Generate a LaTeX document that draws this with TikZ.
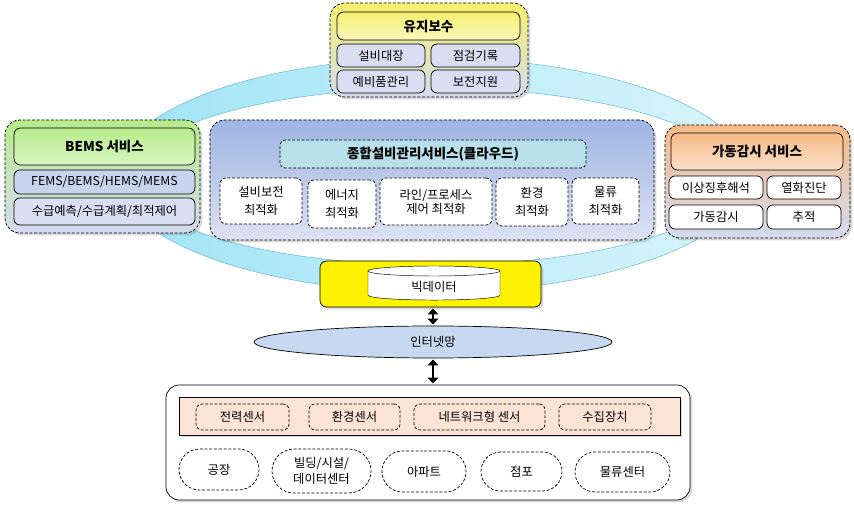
\documentclass[tikz,border=0pt]{standalone}
\usepackage{fontspec}
\setmainfont{Noto Sans CJK KR}
\usepackage{tikz}
\usetikzlibrary{arrows.meta, calc}
\usetikzlibrary{shapes.geometric, shapes.misc}
\usetikzlibrary{shadows}
\definecolor{ringleft}{RGB}{160, 228, 246}
\definecolor{ringright}{RGB}{216, 244, 251}
\definecolor{ringline}{RGB}{96, 180, 200}
\definecolor{lavender}{RGB}{212, 219, 240}
\definecolor{myyellow}{RGB}{246, 240, 110}
\definecolor{mygreen}{RGB}{184, 236, 140}
\definecolor{myorange}{RGB}{246, 186, 134}
\definecolor{mycloud}{RGB}{158, 180, 226}
\definecolor{myteal}{RGB}{184, 224, 232}
\definecolor{itemblue}{RGB}{200, 212, 238}
\definecolor{itemlav}{RGB}{218, 222, 242}
\definecolor{netblue}{RGB}{198, 217, 241}
\definecolor{peach}{RGB}{251, 228, 213}
\tikzstyle{dashline} = [dash pattern=on 2.5pt off 1.5pt, line width=0.6pt]
\tikzstyle{panel} = [draw, dashline, rounded corners=0.45cm, inner sep=0,
    drop shadow={shadow xshift=2pt, shadow yshift=-2pt, opacity=0.3}]
\tikzstyle{header} = [draw, line width=0.6pt, rounded corners=0.2cm, inner sep=0,
    font=\bfseries\fontsize{11.5}{13}\selectfont, align=center]
\tikzstyle{subbox} = [draw, line width=0.6pt, rounded corners=0.18cm, inner sep=0,
    font=\fontsize{10.5}{12}\selectfont, align=center]
\tikzstyle{dashbox} = [draw, dashline, rounded corners=0.18cm, inner sep=0,
    fill=white, font=\fontsize{10.5}{15}\selectfont, align=center]
\tikzstyle{place} = [draw, dashline, rounded rectangle, inner sep=0,
    fill=white, font=\fontsize{10.5}{14}\selectfont, align=center]
\tikzstyle{updown} = [{Triangle[width=9pt,length=5pt]}-{Triangle[width=9pt,length=5pt]},
    line width=2.5pt, shorten <=1pt, shorten >=1pt]

\begin{document}
\begin{tikzpicture}[x=0.03cm, y=-0.03cm]
\useasboundingbox (0,0) rectangle (854,509);

% ring behind everything
\draw[ringline, even odd rule, left color=ringleft, right color=ringright]
    (433,175) ellipse [x radius=316, y radius=117]
    (433,176.5) ellipse [x radius=301, y radius=88.5];

%%% MAINTENANCE
\node[panel, top color=myyellow, bottom color=lavender,
    minimum width=5.94cm, minimum height=2.82cm] (maint) at (429,50) {};
\node[header, top color=myyellow, bottom color=myyellow!45,
    minimum width=5.49cm, minimum height=0.84cm] (mainthead) at (428.5,26) {유지보수};
\node[subbox, fill=itemlav, minimum width=2.64cm, minimum height=0.69cm] (m1) at (381,55.5) {설비대장};
\node[subbox, fill=itemlav, minimum width=2.67cm, minimum height=0.69cm] (m2) at (475.5,55.5) {점검기록};
\node[subbox, fill=itemlav, minimum width=2.64cm, minimum height=0.69cm] (m3) at (381,81.5) {예비품관리};
\node[subbox, fill=itemlav, minimum width=2.67cm, minimum height=0.69cm] (m4) at (475.5,81.5) {보전지원};

%%% BEMS
\node[panel, top color=mygreen, bottom color=lavender,
    minimum width=5.85cm, minimum height=3.39cm] (bems) at (102.5,176.5) {};
\node[header, top color=mygreen, bottom color=mygreen!55,
    minimum width=5.43cm, minimum height=1.11cm] (bemshead) at (104.5,146.5) {BEMS 서비스};
\node[subbox, fill=itemblue, minimum width=5.43cm, minimum height=0.72cm] (b1) at (104.5,182) {FEMS/BEMS/HEMS/MEMS};
\node[subbox, fill=itemlav, minimum width=5.43cm, minimum height=0.81cm] (b2) at (104.5,211.5) {수급예측/수급계획/최적제어};

%%% MONITORING
\node[panel, top color=myorange, bottom color=lavender,
    minimum width=5.55cm, minimum height=3.39cm] (watch) at (757.5,181.5) {};
\node[header, top color=myorange, bottom color=myorange!45,
    minimum width=5.16cm, minimum height=1.11cm] (watchhead) at (757,151.5) {가동감시 서비스};
\node[subbox, fill=white, minimum width=2.82cm, minimum height=0.69cm] (w1) at (716,187.5) {이상징후해석};
\node[subbox, fill=white, minimum width=2.22cm, minimum height=0.69cm] (w2) at (804,187.5) {열화진단};
\node[subbox, fill=white, minimum width=2.82cm, minimum height=0.72cm] (w3) at (716,217) {가동감시};
\node[subbox, fill=white, minimum width=2.22cm, minimum height=0.72cm] (w4) at (804,217) {추적};

%%% CLOUD
\node[panel, top color=mycloud, bottom color=lavender!80,
    minimum width=13.32cm, minimum height=3.6cm] (cloud) at (432,180) {};
\node[header, dashline, fill=myteal, rounded corners=0.15cm,
    minimum width=9.18cm, minimum height=0.84cm] (cloudhead) at (433,154) {종합설비관리서비스(클라우드)};
\node[dashbox, minimum width=2.46cm, minimum height=1.38cm] (c1) at (261,201) {설비보전\\최적화};
\node[dashbox, minimum width=2.04cm, minimum height=1.44cm] (c2) at (342,204) {에너지\\최적화};
\node[dashbox, minimum width=3.36cm, minimum height=1.41cm, font=\fontsize{10.5}{12}\selectfont] (c3) at (436,201.5) {라인/프로세스\\제어 최적화};
\node[dashbox, minimum width=2.16cm, minimum height=1.44cm] (c4) at (532,202) {환경\\최적화};
\node[dashbox, minimum width=2.01cm, minimum height=1.38cm] (c5) at (605.5,201) {물류\\최적화};

%%% BIG DATA
\node[draw, line width=0.6pt, fill=yellow, rounded corners=0.2cm, minimum width=6.63cm, minimum height=1.38cm,
    drop shadow={shadow xshift=2pt, shadow yshift=-2pt, opacity=0.3}] (bigbox) at (430.5,284) {};
\draw[fill=white] (368,271) -- (368,295) .. controls (368,301.7) and (500,301.7) .. (500,295) -- (500,271);
\draw[fill=white] (434,271) ellipse [x radius=66, y radius=5];
\node[font=\fontsize{10.5}{12}\selectfont] (bigdata) at (434,287) {빅데이터};

%%% INTERNET
\node[draw, line width=0.6pt, ellipse, fill=netblue, inner sep=0, minimum width=10.74cm, minimum height=0.96cm,
    font=\fontsize{10.5}{12}\selectfont] (internet) at (433,342) {인터넷망};

%%% FIELD
\node[draw, line width=0.6pt, fill=white, rounded corners=0.4cm, minimum width=15.72cm, minimum height=3.45cm,
    drop shadow={shadow xshift=2pt, shadow yshift=-2pt, opacity=0.3}] (field) at (428,442.5) {};
\node[draw, line width=0.6pt, fill=peach, minimum width=15.03cm, minimum height=1.14cm,
    drop shadow={shadow xshift=1.5pt, shadow yshift=-1.5pt, opacity=0.3}] (sensors) at (429.5,416) {};
\node[dashbox, fill=none, minimum width=2.79cm, minimum height=0.78cm] (s1) at (242.5,417) {전력센서};
\node[dashbox, fill=none, minimum width=2.73cm, minimum height=0.78cm] (s2) at (354.5,417) {환경센서};
\node[dashbox, fill=none, minimum width=3.93cm, minimum height=0.78cm] (s3) at (479.5,417) {네트워크형 센서};
\node[dashbox, fill=none, minimum width=2.76cm, minimum height=0.78cm] (s4) at (605,417) {수집장치};

\node[place, minimum width=2.4cm, minimum height=1.23cm] (p1) at (219,469.5) {공장};
\node[place, minimum width=2.97cm, minimum height=1.32cm] (p2) at (321.5,471) {빌딩/시설/\\데이터센터};
\node[place, minimum width=2.52cm, minimum height=1.23cm] (p3) at (424,471.5) {아파트};
\node[place, minimum width=2.43cm, minimum height=1.17cm] (p4) at (521.5,471.5) {점포};
\node[place, minimum width=2.85cm, minimum height=1.2cm] (p5) at (622.5,472) {물류센터};

% links
\draw[updown] (internet.north |- bigbox.south) -- (internet.north);
\draw[updown] (internet.south) -- (internet.south |- field.north);

\end{tikzpicture}
\end{document}
